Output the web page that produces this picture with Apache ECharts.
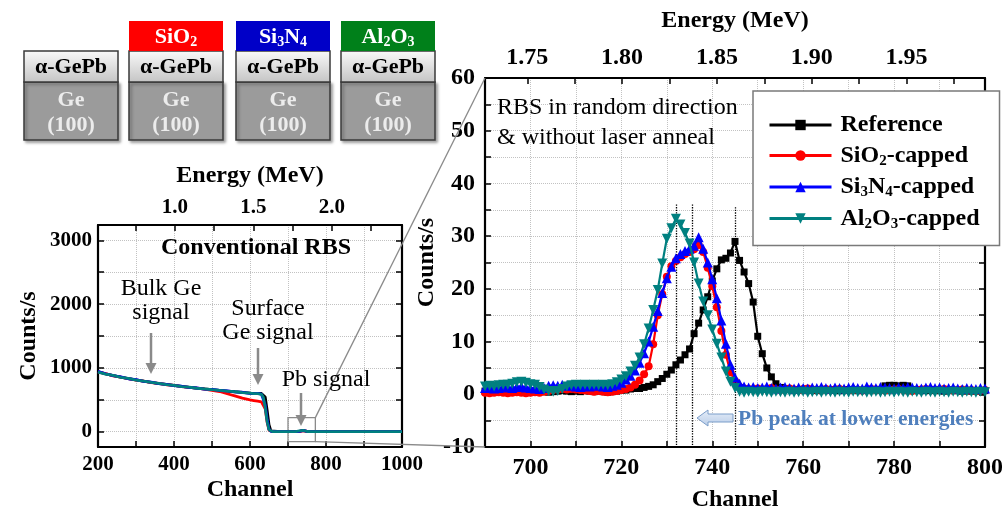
<!DOCTYPE html>
<html><head><meta charset="utf-8">
<script src="https://cdn.jsdelivr.net/npm/echarts@6/dist/echarts.min.js"></script>
<style>html,body{margin:0;padding:0;background:#fff}#c{width:1002px;height:510px}</style>
</head><body><div id="c"></div>
<script>
const FONT = 'Liberation Serif';

// ---------- Left panel (conventional RBS) ----------
const leftChannels = [200,220,240,260,280,300,320,340,360,380,400,420,440,460,480,500,520,540,560,580,600,610,620,625,630,635,640,645,650,655,660,680,700,720,730,740,750,760,780,800,850,900,950,1000];
const leftRef   = [940,905,880,855,832,812,792,774,755,740,725,710,696,683,671,660,648,637,626,616,604,600,602,604,600,590,545,340,110,12,2,0,0,0,5,18,6,0,0,0,0,0,0,0];
const leftSiO2  = [938,910,876,857,830,809,794,770,757,736,727,707,695,682,669,648,630,595,560,525,498,488,478,474,468,452,360,150,25,2,0,0,0,0,4,16,5,0,0,0,0,0,0,0];
const leftSi3N4 = [945,908,878,858,830,815,790,776,752,742,722,712,694,685,668,662,646,639,624,618,602,598,600,598,590,560,420,200,40,5,0,0,0,0,5,20,6,0,0,0,0,0,0,0];
const leftAl2O3 = [935,903,882,853,834,810,793,772,756,738,726,708,697,681,672,658,649,636,627,614,603,596,598,596,585,540,380,160,30,3,0,0,0,0,12,22,3,0,0,0,0,0,0,0];
const leftYLabels = [0,1000,2000,3000];
const leftYTicks = [0,500,1000,1500,2000,2500,3000];
const leftEnergyRange = [0.5115, 2.4464];
const leftEnergyLabels = [1.0,1.5,2.0];
const leftEnergyTicks = [0.75,1.0,1.25,1.5,1.75,2.0,2.25];
const zoomBox = [700, 772, -155, 221]; // channel from/to, counts from/to

// ---------- Right panel (Pb peak) ----------
const rightChannels = [690,691,692,693,694,695,696,697,698,699,700,701,702,703,704,705,706,707,708,709,710,711,712,713,714,715,716,717,718,719,720,721,722,723,724,725,726,727,728,729,730,731,732,733,734,735,736,737,738,739,740,741,742,743,744,745,746,747,748,749,750,751,752,753,754,755,756,757,758,759,760,761,762,763,764,765,766,767,768,769,770,771,772,773,774,775,776,777,778,779,780,781,782,783,784,785,786,787,788,789,790,791,792,793,794,795,796,797,798,799,800];
const refVals = [0.6,0.5,0.4,0.5,0.6,0.5,0.4,0.5,0.7,0.6,
 0.5,0.4,0.6,0.5,0.4,0.5,0.6,0.7,0.6,0.5,
 0.6,0.5,0.7,0.6,0.5,0.6,0.5,0.4,0.5,0.6,
 0.8,0.8,1.0,1.1,1.1,1.3,1.5,1.8,2.4,3.0,
 3.8,4.6,5.6,6.5,7.5,8.6,11.5,13.5,16.0,18.5,
 21.5,23.8,25.5,25.8,26.8,29.0,25.4,23.2,21.0,17.5,
 11.0,7.7,5.0,3.3,2.0,1.3,1.0,0.9,0.8,0.9,
 0.8,0.9,0.8,0.7,0.8,0.9,0.8,0.8,0.7,0.8,
 0.9,0.8,0.8,0.7,0.8,0.9,0.8,0.9,1.6,1.7,
 1.7,1.6,1.7,1.6,0.9,0.8,0.7,0.8,0.7,0.8,
 0.7,0.6,0.7,0.8,0.7,0.6,0.7,0.6,0.7,0.6,0.7];
const sio2Vals = [0.3,0.2,0.3,0.4,0.3,0.2,0.3,0.4,0.3,0.2,
 0.3,0.4,0.3,0.5,0.6,0.8,0.9,1.0,0.9,1.0,
 0.9,0.8,0.7,0.6,0.5,0.6,0.5,0.4,0.5,0.6,
 0.8,1.0,1.3,1.8,2.6,3.8,5.3,9.5,15.0,19.0,
 22.3,24.3,25.3,26.0,26.6,27.0,27.5,28.3,27.0,24.0,
 20.5,16.5,12.0,7.5,4.2,2.5,1.4,1.1,1.0,0.9,
 1.1,0.9,1.0,1.2,0.9,0.8,1.0,1.1,0.9,0.8,
 1.0,1.1,0.9,0.8,0.9,1.0,0.8,0.9,1.0,0.8,
 0.7,0.9,0.8,0.7,0.9,1.0,0.9,0.8,0.7,0.8,
 0.9,1.0,0.8,0.7,0.6,0.8,0.9,1.0,0.9,0.8,
 0.9,1.0,0.8,0.7,0.8,0.9,0.7,0.8,0.6,0.7,0.8];
const si3n4Vals = [1.2,1.3,1.1,1.2,1.4,1.3,1.2,1.4,1.5,1.3,
 1.2,1.1,1.0,1.2,1.6,1.7,1.6,1.8,1.6,1.7,
 1.5,1.4,1.6,1.5,1.7,1.6,1.5,1.4,1.6,1.8,
 2.2,2.8,3.5,4.5,6.0,7.8,10.0,12.8,15.8,19.2,
 22.0,24.2,25.8,26.6,27.2,27.6,28.2,29.8,27.6,25.0,
 21.8,18.2,14.0,9.6,5.6,3.2,2.0,1.5,1.3,1.4,
 1.2,1.3,1.5,1.2,1.1,1.3,1.4,1.2,1.1,1.3,
 1.2,1.1,1.3,1.2,1.4,1.2,1.1,1.3,1.2,1.1,
 1.3,1.4,1.2,1.1,1.5,1.3,1.2,1.4,1.3,1.2,
 1.1,1.3,1.2,1.4,1.3,1.2,1.1,1.3,1.4,1.2,
 1.3,1.1,1.2,1.3,1.1,1.0,1.2,1.1,1.0,1.2,1.1];
const al2o3Vals = [1.5,1.6,1.5,1.7,1.8,1.8,2.0,2.3,2.4,2.2,
 1.9,1.8,1.4,0.9,0.6,0.5,0.6,1.0,1.5,1.7,
 1.8,1.7,1.8,1.7,1.8,1.7,1.8,1.7,1.9,2.3,
 2.8,3.4,4.3,5.4,7.0,9.5,12.5,16.0,19.8,24.8,
 29.5,31.5,33.3,32.2,30.6,28.6,25.0,21.0,17.6,15.0,
 12.3,9.6,7.0,4.3,2.4,1.2,0.5,0.3,0.5,0.4,
 0.3,0.5,0.4,0.3,0.5,0.4,0.3,0.5,0.3,0.4,
 0.5,0.3,0.4,0.5,0.3,0.5,0.4,0.3,0.5,0.4,
 0.3,0.5,0.4,0.5,0.3,0.4,0.5,0.3,0.4,0.5,
 0.3,0.5,0.4,0.3,0.5,0.4,0.3,0.5,0.4,0.3,
 0.5,0.4,0.3,0.5,0.4,0.3,0.5,0.4,0.3,0.5,0.4];
const rightEnergyRange = [1.7277, 1.9914];
const rightEnergyLabels = [1.75,1.80,1.85,1.90,1.95];
const rightEnergyTicks = [1.75,1.775,1.80,1.825,1.85,1.875,1.90,1.925,1.95,1.975];
const peakLines = [[732, 36], [735.5, 36], [745, 35.5]];
const seriesNames = ['Reference','SiO2-capped','Si3N4-capped','Al2O3-capped'];
const seriesColors = ['#000000','#ff0000','#0000ff','#008080'];
const capLabels = ['', 'SiO2', 'Si3N4', 'Al2O3'];
const capColors = ['', '#ff0000', '#0000c8', '#00801a'];

const zip = (xs, ys) => xs.map((x, i) => [x, ys[i]]);
const chem = s => ('{n|' + s.replace(/(\d)/g, '}{s|$1}{n|') + '}').replace(/\{n\|\}/g, '');

const tickStyle = {inside: true, length: 6, lineStyle: {color: '#000', width: 1.5}};
const lineStyleAxis = {show: true, onZero: false, lineStyle: {color: '#000', width: 2.2}};
const splitStyle = {show: true, lineStyle: {color: '#c2c2c2', type: 'dotted', width: 1}};
const lbl = (size, extra) => Object.assign({fontFamily: FONT, fontWeight: 'bold', fontSize: size, color: '#000'}, extra || {});
const nameStyle = {fontFamily: FONT, fontWeight: 'bold', fontSize: 24, color: '#000'};

const chart = echarts.init(document.getElementById('c'), null, {renderer: 'canvas'});

const leftSets = [leftRef, leftSiO2, leftSi3N4, leftAl2O3];
const rightSets = [refVals, sio2Vals, si3n4Vals, al2o3Vals];
const symbols = ['rect', 'circle', 'triangle', 'path://M0,0L10,0L5,9Z'];
const symSizes = [7, 8, 10, 10];

const series = [];
leftSets.forEach((vals, i) => {
  const s = {
    name: 'conv-' + seriesNames[i], type: 'line', xAxisIndex: 0, yAxisIndex: 0,
    data: zip(leftChannels, vals), showSymbol: false, symbol: 'none',
    lineStyle: {color: seriesColors[i], width: 2.8}, itemStyle: {color: seriesColors[i]},
    silent: true, z: 2 + i
  };
  if (i === 0) {
    s.markArea = {silent: true, itemStyle: {color: 'rgba(0,0,0,0)', borderColor: '#8a8a8a', borderWidth: 1.3},
      data: [[{xAxis: zoomBox[0], yAxis: zoomBox[2]}, {xAxis: zoomBox[1], yAxis: zoomBox[3]}]]};
  }
  series.push(s);
});
rightSets.forEach((vals, i) => {
  const s = {
    name: seriesNames[i], type: 'line', xAxisIndex: 2, yAxisIndex: 2,
    data: zip(rightChannels, vals), showSymbol: true, symbol: symbols[i], symbolSize: symSizes[i],
    lineStyle: {color: seriesColors[i], width: 2.2}, itemStyle: {color: seriesColors[i]},
    silent: true, z: 3 + i
  };
  if (i === 0) {
    s.markLine = {silent: true, symbol: ['none', 'none'], label: {show: false},
      lineStyle: {color: '#000', type: 'dotted', width: 1.3},
      data: peakLines.map(p => [{coord: [p[0], p[1]]}, {coord: [p[0], -10]}])};
  }
  series.push(s);
});

const option = {
  animation: false,
  backgroundColor: '#fff',
  grid: [
    {left: 98, top: 225, width: 304, height: 222, containLabel: false, outerBoundsMode: 'none'},
    {left: 485, top: 78, width: 500, height: 369, containLabel: false, outerBoundsMode: 'none'}
  ],
  xAxis: [
    {gridIndex: 0, type: 'value', position: 'bottom', min: 200, max: 1000, interval: 100,
     axisLine: lineStyleAxis, axisTick: tickStyle, splitLine: splitStyle,
     axisLabel: lbl(21, {margin: 7, formatter: v => (v % 200 === 0 ? String(v) : '')}),
     name: 'Channel', nameLocation: 'middle', nameGap: 31, nameTextStyle: nameStyle},
    {gridIndex: 0, type: 'value', position: 'top', min: leftEnergyRange[0], max: leftEnergyRange[1],
     axisLine: lineStyleAxis, axisTick: Object.assign({customValues: leftEnergyTicks}, tickStyle), splitLine: {show: false},
     axisLabel: lbl(21, {margin: 7, customValues: leftEnergyLabels, formatter: v => v.toFixed(1)}),
     name: 'Energy (MeV)', nameLocation: 'middle', nameGap: 37, nameTextStyle: nameStyle},
    {gridIndex: 1, type: 'value', position: 'bottom', min: 690, max: 800, interval: 10,
     axisLine: lineStyleAxis, axisTick: tickStyle, splitLine: splitStyle,
     axisLabel: lbl(24, {margin: 9, formatter: v => (v % 20 === 0 ? String(v) : '')}),
     name: 'Channel', nameLocation: 'middle', nameGap: 41, nameTextStyle: nameStyle},
    {gridIndex: 1, type: 'value', position: 'top', min: rightEnergyRange[0], max: rightEnergyRange[1],
     axisLine: lineStyleAxis, axisTick: Object.assign({customValues: rightEnergyTicks}, tickStyle), splitLine: {show: false},
     axisLabel: lbl(24, {margin: 8, customValues: rightEnergyLabels, formatter: v => v.toFixed(2)}),
     name: 'Energy (MeV)', nameLocation: 'middle', nameGap: 45, nameTextStyle: nameStyle}
  ],
  yAxis: [
    {gridIndex: 0, type: 'value', position: 'left', min: -240, max: 3240,
     axisLine: lineStyleAxis, axisTick: Object.assign({customValues: leftYTicks}, tickStyle), splitLine: splitStyle,
     axisLabel: lbl(21, {margin: 6, customValues: leftYLabels, formatter: v => String(Math.round(v))}),
     name: 'Counts/s', nameLocation: 'middle', nameGap: 57, nameTextStyle: nameStyle},
    {gridIndex: 0, type: 'value', position: 'right', min: -240, max: 3240,
     axisLine: lineStyleAxis, axisTick: Object.assign({customValues: leftYTicks}, tickStyle), splitLine: {show: false},
     axisLabel: {show: false}},
    {gridIndex: 1, type: 'value', position: 'left', min: -10, max: 60, interval: 5,
     axisLine: lineStyleAxis, axisTick: tickStyle, splitLine: splitStyle,
     axisLabel: lbl(24, {margin: 10, formatter: v => (v % 10 === 0 ? String(v) : '')}),
     name: 'Counts/s', nameLocation: 'middle', nameGap: 28, nameTextStyle: nameStyle},
    {gridIndex: 1, type: 'value', position: 'right', min: -10, max: 60, interval: 5,
     axisLine: lineStyleAxis, axisTick: tickStyle, splitLine: {show: false}, axisLabel: {show: false}}
  ],
  legend: {
    data: seriesNames, orient: 'vertical', left: 753, top: 91,
    padding: [22, 20, 14, 15], itemGap: 6.5, itemWidth: 62, itemHeight: 13,
    backgroundColor: '#fff', borderColor: '#7a7a7a', borderWidth: 1.5,
    selectedMode: false, z: 20,
    lineStyle: {width: 3},
    formatter: name => chem(name),
    textStyle: {fontFamily: FONT, fontWeight: 'bold', fontSize: 24, color: '#000', padding: [0, 0, 0, 4],
      rich: {
        n: {fontFamily: FONT, fontWeight: 'bold', fontSize: 24, color: '#000', lineHeight: 26},
        s: {fontFamily: FONT, fontWeight: 'bold', fontSize: 15, color: '#000', lineHeight: 15, verticalAlign: 'bottom'}
      }}
  },
  series: series
};
chart.setOption(option);

// ---------- annotations (graphic) ----------
const g = [];
const font = (w, s) => (w ? 'bold ' : '') + s + 'px "' + FONT + '"';
function text(x, y, str, f, color, extra) {
  g.push(Object.assign({type: 'text', z: 30, silent: true, style: {
    text: str, x: x, y: y, font: f, fill: color, align: 'center', verticalAlign: 'middle',
    textAlign: 'center', textVerticalAlign: 'middle', lineHeight: 24}}, extra || {}));
}
function arrowDown(x, y1, y2) {
  g.push({type: 'line', z: 30, silent: true, shape: {x1: x, y1: y1, x2: x, y2: y2 - 9}, style: {stroke: '#8a8a8a', lineWidth: 2.5}});
  g.push({type: 'polygon', z: 30, silent: true, shape: {points: [[x - 5.5, y2 - 11], [x + 5.5, y2 - 11], [x, y2]]}, style: {fill: '#8a8a8a'}});
}

// schematic stacks
const stackX = [24, 129, 236, 341];
stackX.forEach((x, i) => {
  const w = 94;
  g.push({type: 'rect', z: 10, silent: true, shape: {x: x, y: 82, width: w, height: 58},
    style: {fill: '#9b9b9b', stroke: '#3a3a3a', lineWidth: 1.5, shadowBlur: 3, shadowOffsetX: 2, shadowOffsetY: 2, shadowColor: 'rgba(0,0,0,0.35)'}});
  g.push({type: 'rect', z: 10, silent: true, shape: {x: x, y: 51, width: w, height: 31},
    style: {fill: new echarts.graphic.LinearGradient(0, 0, 0, 1, [{offset: 0, color: '#fafafa'}, {offset: 1, color: '#c4c4c4'}]),
      stroke: '#3a3a3a', lineWidth: 1.5}});
  text(x + w / 2, 67, 'α-GePb', font(true, 22), '#000');
  text(x + w / 2, 100, 'Ge', font(true, 22), '#ececec');
  text(x + w / 2, 125, '(100)', font(true, 22), '#ececec');
  if (capLabels[i]) {
    g.push({type: 'rect', z: 10, silent: true, shape: {x: x, y: 21, width: w, height: 30}, style: {fill: capColors[i]}});
    g.push({type: 'text', z: 30, silent: true, style: {
      text: chem(capLabels[i]), x: x + w / 2, y: 37, align: 'center', verticalAlign: 'middle',
      textAlign: 'center', textVerticalAlign: 'middle',
      rich: {
        n: {font: font(true, 22), fontFamily: FONT, fontWeight: 'bold', fontSize: 22, fill: '#fff', color: '#fff', lineHeight: 24},
        s: {font: font(true, 14), fontFamily: FONT, fontWeight: 'bold', fontSize: 14, fill: '#fff', color: '#fff', lineHeight: 14, verticalAlign: 'bottom'}
      }}});
  }
});

// left panel annotations
text(256, 248, 'Conventional RBS', font(true, 24), '#000');
text(161, 301, 'Bulk Ge\nsignal', font(false, 24), '#000');
arrowDown(151, 333, 374);
text(268, 321, 'Surface\nGe signal', font(false, 24), '#000');
arrowDown(258, 348, 385);
text(326, 380, 'Pb signal', font(false, 24), '#000');
arrowDown(301, 393, 426);

// right panel annotations
g.push({type: 'text', z: 30, silent: true, style: {text: 'RBS in random direction\n& without laser anneal',
  x: 497, y: 93, font: font(false, 24), fill: '#000', align: 'left', verticalAlign: 'top', textAlign: 'left', textVerticalAlign: 'top', lineHeight: 30}});
g.push({type: 'text', z: 30, silent: true, style: {text: 'Pb peak at lower energies',
  x: 738, y: 419, font: font(true, 21.5), fill: '#4f7fbd', align: 'left', verticalAlign: 'middle', textAlign: 'left', textVerticalAlign: 'middle'}});
g.push({type: 'polygon', z: 30, silent: true, shape: {points: [[697, 418], [708, 410], [708, 414], [733, 414], [733, 422], [708, 422], [708, 426]]},
  style: {fill: new echarts.graphic.LinearGradient(0, 0, 0, 1, [{offset: 0, color: '#e6eef9'}, {offset: 1, color: '#b9cde8'}]), stroke: '#7b9dc9', lineWidth: 1}});

// connector lines from zoom box to right panel
const bTR = chart.convertToPixel({xAxisIndex: 0, yAxisIndex: 0}, [zoomBox[1], zoomBox[3]]);
const bBR = chart.convertToPixel({xAxisIndex: 0, yAxisIndex: 0}, [zoomBox[1], zoomBox[2]]);
const rTL = chart.convertToPixel({xAxisIndex: 2, yAxisIndex: 2}, [690, 60]);
const rBL = chart.convertToPixel({xAxisIndex: 2, yAxisIndex: 2}, [690, -10]);
g.push({type: 'line', z: 1, silent: true, shape: {x1: bTR[0], y1: bTR[1], x2: rTL[0], y2: rTL[1]}, style: {stroke: '#8a8a8a', lineWidth: 1.3}});
g.push({type: 'line', z: 1, silent: true, shape: {x1: bBR[0], y1: bBR[1], x2: rBL[0], y2: rBL[1]}, style: {stroke: '#8a8a8a', lineWidth: 1.3}});

chart.setOption({graphic: {elements: g}});
</script>
</body></html>
